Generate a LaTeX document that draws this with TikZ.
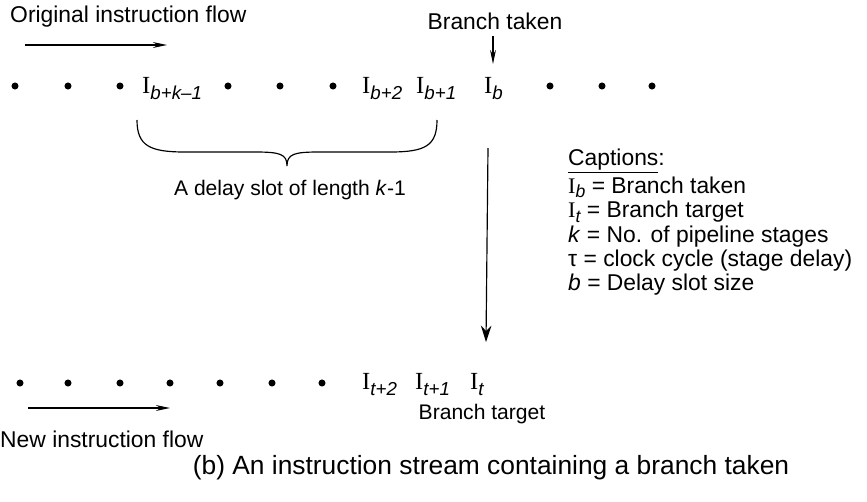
\documentclass[tikz,border=0pt]{standalone}
\usepackage{fontspec}
\setmainfont{Liberation Sans}
\newfontfamily\instrfont{Liberation Serif}
\usetikzlibrary{arrows.meta}

\newcommand{\instr}[1]{{\instrfont\fontsize{21}{21}\selectfont I}\raisebox{-0.5ex}{\fontsize{16}{16}\selectfont\itshape #1}}
\newcommand{\capinstr}[1]{{\instrfont\fontsize{19}{19}\selectfont I}\raisebox{-0.35ex}{\fontsize{15}{15}\selectfont\itshape #1}}

\tikzset{
  dot/.style={circle,fill,inner sep=0pt,minimum size=6pt},
  txt/.style={inner sep=0pt,font=\fontsize{19.5}{22}\selectfont},
  small/.style={txt,font=\fontsize{18}{21}\selectfont},
  flow/.style={line width=1pt,-{Stealth[length=12pt,width=5pt]}},
}

\begin{document}
\begin{tikzpicture}[x=0.03cm,y=-0.03cm]

\useasboundingbox (0,0) rectangle (867,501);

% original stream
\node[txt,anchor=west] (orig) at (10,17) {Original instruction flow};
\coordinate (o1) at (25,45);
\coordinate (o2) at (167,45);
\draw[flow] (o1) -- (o2);

\node[txt] (taken) at (495,21) {Branch taken};
\coordinate (t1) at (493,36);
\coordinate (t2) at (493,64);
\draw[flow] (t1) -- (t2);

\foreach \x in {15,68,120,228,280,333,550,602,652}
  \node[dot] at (\x,86) {};

\node[txt,anchor=west] (ibk) at (142,89) {\instr{b+k--1}};
\node[txt,anchor=west] (ib2) at (362,89) {\instr{b+2}};
\node[txt,anchor=west] (ib1) at (416,89) {\instr{b+1}};
\node[txt,anchor=west] (ib) at (484,89) {\instr{b}};

% delay slot
\draw[line width=1pt] (137,120) .. controls (137,146) and (150,152) .. (185,152)
  -- (255,152) .. controls (280,152) and (287,154) .. (287,166)
  .. controls (287,154) and (294,152) .. (319,152) -- (390,152)
  .. controls (425,152) and (437,146) .. (437,120);
\node[small] (slot) at (290,190) {A delay slot of length \textit{k}-1};

% jump to target
\coordinate (j1) at (488,148);
\coordinate (j2) at (486,342);
\draw[line width=1pt,-{Stealth[length=14pt,width=9pt]}] (j1) -- (j2);

% captions
\node[txt,anchor=west] (cap) at (568,161) {\underline{Captions}:};
\node[txt,anchor=west] (cap1) at (568,187) {\capinstr{b} = Branch taken};
\node[txt,anchor=west] (cap2) at (568,212) {\capinstr{t} = Branch target};
\node[txt,anchor=west] (cap3) at (568,237) {\textit{k} = No. of pipeline stages};
\node[txt,anchor=west] (cap4) at (568,261) {τ = clock cycle (stage delay)};
\node[txt,anchor=west] (cap5) at (568,285) {\textit{b} = Delay slot size};

% new stream
\foreach \x in {20,68,120,170,220,272,322}
  \node[dot] at (\x,383) {};

\node[txt,anchor=west] (it2) at (362,385) {\instr{t+2}};
\node[txt,anchor=west] (it1) at (415,385) {\instr{t+1}};
\node[txt,anchor=west] (it) at (470,385) {\instr{t}};

\node[small] (target) at (482,414) {Branch target};
\coordinate (n1) at (28,408);
\coordinate (n2) at (170,408);
\draw[flow] (n1) -- (n2);
\node[txt,anchor=west] (new) at (0,439) {New instruction flow};

\node[txt,font=\fontsize{22.5}{26}\selectfont] (caption) at (491,468) {(b) An instruction stream containing a branch taken};

\end{tikzpicture}
\end{document}
